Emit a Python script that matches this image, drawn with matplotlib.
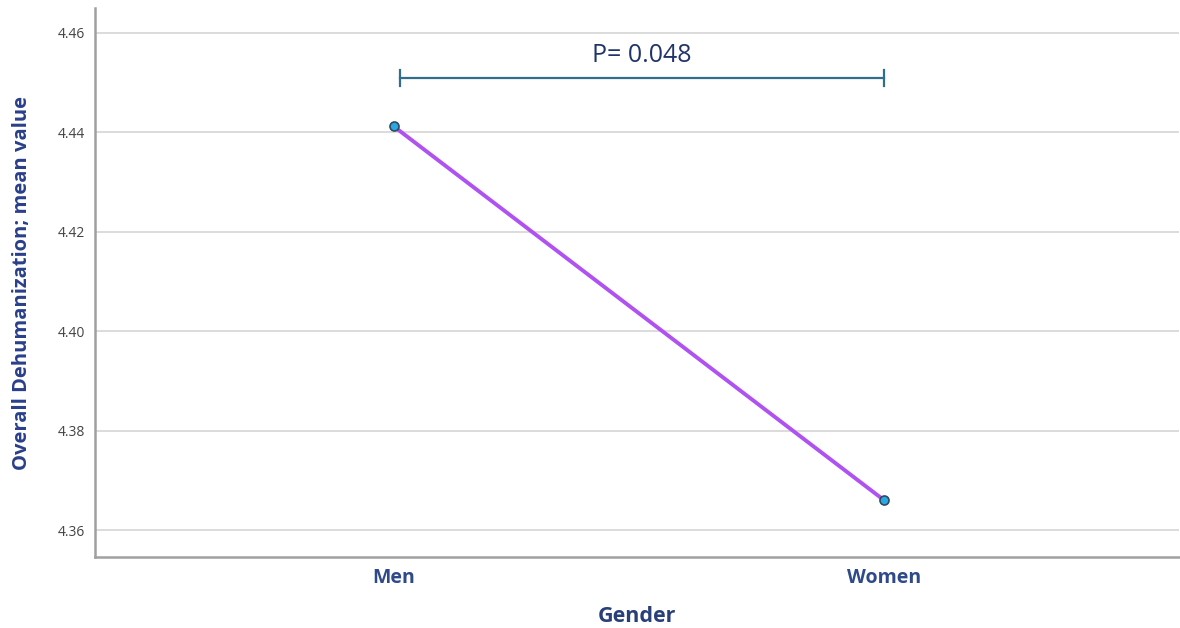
import matplotlib
matplotlib.use("Agg")
import matplotlib.pyplot as plt

categories = ["Men", "Women"]
means = [4.4412, 4.3660]
yticks = [4.36, 4.38, 4.40, 4.42, 4.44, 4.46]
p_label = "P= 0.048"
bracket_y = 4.4510

plt.rcParams['font.family'] = ['Open Sans', 'DejaVu Sans']

fig = plt.figure(figsize=(11.8, 6.28), dpi=100)
ax = fig.add_axes([95/1180, (628-557)/628, (1179-95)/1180, (557-8)/628])

x = list(range(len(categories)))
ax.plot(x, means, color="#b052f2", lw=2.8, zorder=3,
        marker="o", markersize=6.5, markerfacecolor="#2aa8e6",
        markeredgecolor="#2f4b5e", markeredgewidth=1.2)

ax.set_xlim(-0.609, 1.601)
ax.set_ylim(4.3546, 4.465)
ax.set_yticks(yticks)
ax.set_yticklabels([f"{v:.2f}" for v in yticks])
ax.set_xticks(x)
ax.set_xticklabels(categories, fontweight="bold")

ax.grid(axis="y", color="#d6d6d6", lw=1.2, zorder=0)
ax.set_axisbelow(True)
for s in ["top", "right"]:
    ax.spines[s].set_visible(False)
for s in ["left", "bottom"]:
    ax.spines[s].set_color("#a0a0a0")
    ax.spines[s].set_linewidth(1.8)

ax.tick_params(axis="y", length=0, pad=7, labelsize=10, labelcolor="#444444")
ax.tick_params(axis="x", length=0, pad=8, labelsize=14, labelcolor="#2f4a8a")

ax.set_ylabel("Overall Dehumanization; mean value", fontsize=14.5,
              fontweight="bold", color="#2a3f8a", labelpad=19)
ax.set_xlabel("Gender", fontsize=15.5, fontweight="bold", color="#2a3f7a", labelpad=13)

# significance bracket
x0, x1 = 0.012, 1.0
ax.plot([x0, x1], [bracket_y, bracket_y], color="#2f6e8c", lw=1.6, zorder=4)
cap = 0.0016
for xc in (x0, x1):
    ax.plot([xc, xc], [bracket_y - cap, bracket_y + cap], color="#2f6e8c", lw=1.6, zorder=4)
ax.text((x0 + x1) / 2, bracket_y + 0.0019, p_label, ha="center", va="bottom",
        fontsize=18, color="#1f3468")

fig.savefig("out.png", dpi=100)
